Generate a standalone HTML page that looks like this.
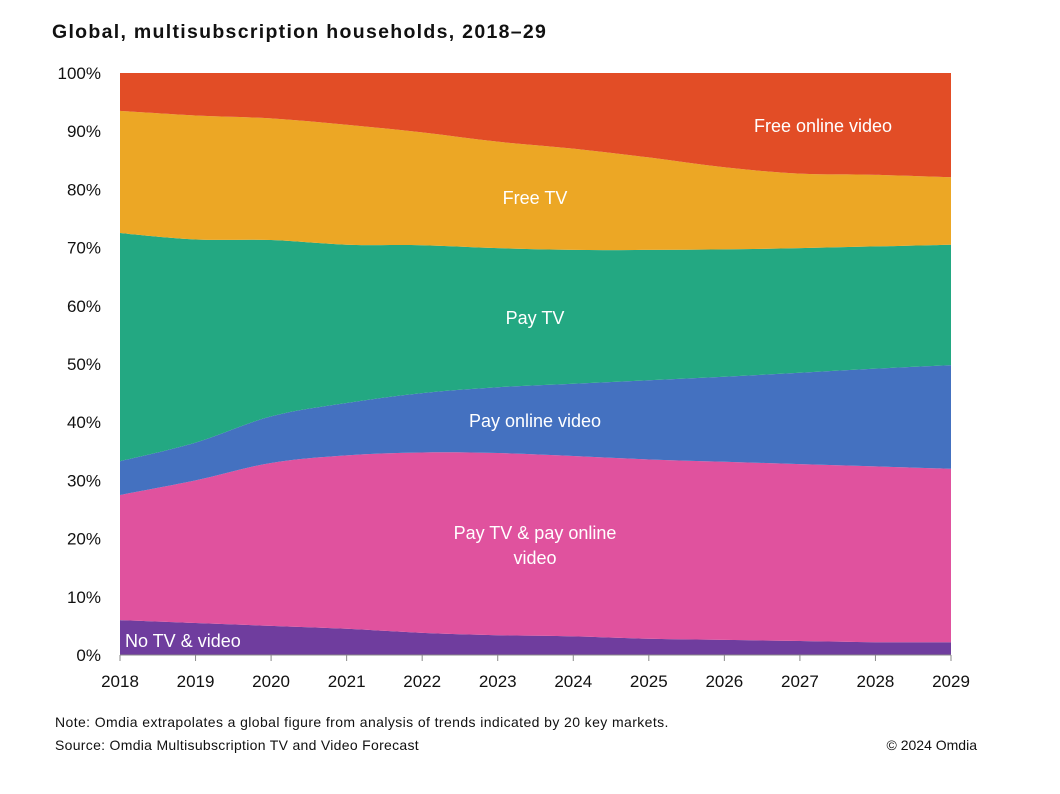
<!DOCTYPE html>
<html><head><meta charset="utf-8"><style>
body{margin:0;background:#fff;width:1060px;height:789px;overflow:hidden;font-family:"Liberation Sans",sans-serif}
svg text{font-family:"Liberation Sans",sans-serif}
</style></head><body>
<svg id="c" width="1060" height="789">
<text x="52" y="38" font-size="19.5" font-weight="bold" letter-spacing="1.3" fill="#111">Global, multisubscription households, 2018–29</text>
<g id="areas"></g><g id="axes"></g><g id="labels"></g>
<text x="55" y="727" font-size="14" letter-spacing="0.4" fill="#111">Note: Omdia extrapolates a global figure from analysis of trends indicated by 20 key markets.</text>
<text x="55" y="750" font-size="14" letter-spacing="0.3" fill="#111">Source: Omdia Multisubscription TV and Video Forecast</text>
<text x="977" y="750" font-size="14" fill="#111" text-anchor="end">© 2024 Omdia</text>
</svg>
<script>
const years=[2018,2019,2020,2021,2022,2023,2024,2025,2026,2027,2028,2029];
const yTicks=[0,10,20,30,40,50,60,70,80,90,100];
const noTV=[6,5.5,5,4.5,3.8,3.4,3.2,2.8,2.6,2.4,2.2,2.2];
const payBoth=[21.5,24.5,28,29.8,31,31.3,31,30.8,30.6,30.4,30.2,29.8];
const payOnline=[5.8,6.5,8,9,10.2,11.3,12.4,13.6,14.6,15.7,16.8,17.8];
const payTV=[39.2,34.9,30.3,27.2,25.4,23.9,23,22.4,21.9,21.4,21,20.7];
const freeTV=[21,21.3,20.9,20.6,19.4,18.3,17.4,15.9,14.1,12.8,12.3,11.6];
const freeOnline=[6.5,7.3,7.8,8.9,10.2,11.8,13,14.5,16.2,17.3,17.5,17.9];
const seriesNames=["no-tv-video","pay-tv-pay-online-video","pay-online-video","pay-tv","free-tv","free-online-video"];
const series=[noTV,payBoth,payOnline,payTV,freeTV,freeOnline];
const colors=["#6f3d9e","#e0529e","#4471c0","#23a882","#eca725","#e24d26"];
const X0=120,X1=951,Y0=655,Y1=73;
const x=i=>X0+(X1-X0)*(years[i]-years[0])/(years[years.length-1]-years[0]);
const y=v=>Y0-(Y0-Y1)*v/100;
const NS="http://www.w3.org/2000/svg";
function el(t,a,p){const e=document.createElementNS(NS,t);for(const k in a)e.setAttribute(k,a[k]);p.appendChild(e);return e;}
function spline(pts){let d="";for(let i=0;i<pts.length-1;i++){const p0=pts[Math.max(0,i-1)],p1=pts[i],p2=pts[i+1],p3=pts[Math.min(pts.length-1,i+2)];const c1=[p1[0]+(p2[0]-p0[0])/6,p1[1]+(p2[1]-p0[1])/6],c2=[p2[0]-(p3[0]-p1[0])/6,p2[1]-(p3[1]-p1[1])/6];d+=` C${c1[0]},${c1[1]} ${c2[0]},${c2[1]} ${p2[0]},${p2[1]}`;}return d;}
const totals=years.map((_,i)=>series.reduce((s,a)=>s+a[i],0));
let cum=years.map(()=>0);
const areas=document.getElementById('areas');
series.forEach((s,k)=>{
 const lo=cum.slice();cum=cum.map((c,i)=>c+s[i]*100/totals[i]);
 const top=cum.map((c,i)=>[x(i),y(k==series.length-1?100:c)]);
 const bot=lo.map((c,i)=>[x(i),y(c)]).reverse();
 const d=`M${top[0][0]},${top[0][1]}`+spline(top)+` L${bot[0][0]},${bot[0][1]}`+spline(bot)+"Z";
 const p=el('path',{d:d,fill:colors[k]},areas);
 
 
});
const ax=document.getElementById('axes');
const l=el('line',{x1:X0,x2:X1,y1:Y0,y2:Y0,stroke:'#888','stroke-width':1},ax);


years.forEach((yr,i)=>{
 el('line',{x1:x(i),x2:x(i),y1:Y0,y2:Y0+6,stroke:'#888'},ax);
 const t=el('text',{x:x(i),y:Y0+32,'font-size':17,'text-anchor':'middle',fill:'#111'},ax);t.textContent=yr;
 
 
});
yTicks.forEach(v=>{
 const t=el('text',{x:101,y:y(v)+6,'font-size':17,'text-anchor':'end',fill:'#111'},ax);t.textContent=v+'%';
 
 
});
const lb=document.getElementById('labels');
[["Free online video",823,132,"label-free-online-video"],["Free TV",535,204,"label-free-tv"],["Pay TV",535,324,"label-pay-tv"],["Pay online video",535,427,"label-pay-online-video"],["Pay TV & pay online",535,539,"label-pay-tv-pay-online"],["video",535,564,"label-video"]].forEach(a=>{
 const t=el('text',{x:a[1],y:a[2],'font-size':18,'text-anchor':'middle',fill:'#fff'},lb);t.textContent=a[0];
 
 
});
const t=el('text',{x:125,y:647,'font-size':18,fill:'#fff'},lb);t.textContent="No TV & video";


</script>
</body></html>
